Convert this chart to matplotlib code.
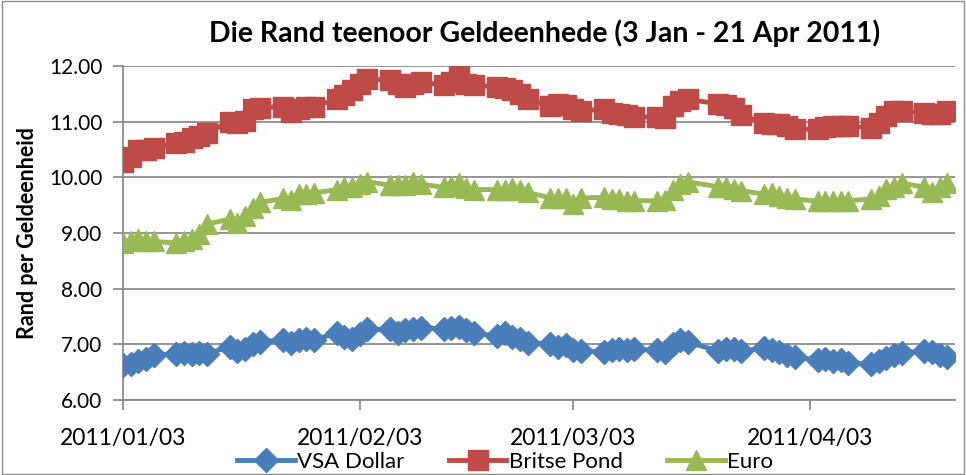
import matplotlib
matplotlib.use("Agg")
import matplotlib.pyplot as plt
import matplotlib.dates as mdates
from matplotlib.patches import Rectangle
import pandas as pd

# business days 3 Jan - 21 Apr 2011 (21 Mar is a public holiday)
dates = pd.bdate_range("2011-01-03", "2011-04-21", freq="C", holidays=["2011-03-21"])

usd = [6.63, 6.65, 6.70, 6.74, 6.81,
       6.83, 6.85, 6.83, 6.84, 6.83,
       6.96, 6.88, 6.92, 7.00, 7.05,
       7.08, 7.03, 7.07, 7.10, 7.08,
       7.20, 7.13, 7.10, 7.18, 7.27,
       7.27, 7.20, 7.25, 7.27, 7.30,
       7.28, 7.30, 7.32, 7.25, 7.20,
       7.15, 7.20, 7.13, 7.10, 7.03,
       7.00, 6.95, 6.98, 6.90, 6.88,
       6.87, 6.89, 6.91, 6.89, 6.91,
       6.89, 6.86, 7.00, 7.08, 7.04,
       6.88, 6.92, 6.92, 6.88,
       6.93, 6.90, 6.86, 6.80, 6.77,
       6.72, 6.74, 6.70, 6.72, 6.66,
       6.65, 6.70, 6.75, 6.80, 6.85,
       6.88, 6.86, 6.80, 6.78]

gbp = [10.28, 10.37, 10.49, 10.50, 10.52,
       10.62, 10.63, 10.70, 10.75, 10.80,
       11.00, 10.98, 11.02, 11.22, 11.25,
       11.27, 11.18, 11.22, 11.26, 11.27,
       11.40, 11.48, 11.57, 11.68, 11.76,
       11.75, 11.67, 11.63, 11.68, 11.71,
       11.66, 11.72, 11.85, 11.68, 11.66,
       11.62, 11.60, 11.57, 11.50, 11.40,
       11.28, 11.32, 11.30, 11.22, 11.20,
       11.22, 11.15, 11.14, 11.12, 11.09,
       11.08, 11.06, 11.28, 11.38, 11.40,
       11.32, 11.30, 11.25, 11.12,
       10.98, 10.95, 10.95, 10.93, 10.86,
       10.87, 10.90, 10.92, 10.92, 10.93,
       10.88, 10.98, 11.10, 11.20, 11.20,
       11.15, 11.13, 11.13, 11.20]

eur = [8.82, 8.86, 8.90, 8.86, 8.85,
       8.82, 8.85, 8.90, 8.98, 9.16,
       9.25, 9.18, 9.30, 9.45, 9.55,
       9.62, 9.60, 9.70, 9.70, 9.72,
       9.78, 9.82, 9.83, 9.88, 9.92,
       9.86, 9.86, 9.86, 9.92, 9.88,
       9.82, 9.85, 9.90, 9.80, 9.78,
       9.78, 9.78, 9.80, 9.78, 9.73,
       9.63, 9.62, 9.62, 9.52, 9.63,
       9.64, 9.61, 9.61, 9.58, 9.58,
       9.58, 9.60, 9.78, 9.88, 9.92,
       9.83, 9.82, 9.79, 9.76,
       9.70, 9.71, 9.67, 9.63, 9.61,
       9.57, 9.58, 9.57, 9.58, 9.58,
       9.61, 9.67, 9.79, 9.83, 9.90,
       9.82, 9.73, 9.82, 9.90]

tick_dates = pd.to_datetime(["2011-01-03", "2011-02-03", "2011-03-03", "2011-04-03"])

plt.rcParams['font.family'] = ['Lato', 'DejaVu Sans']

fig = plt.figure(figsize=(9.66, 4.75), dpi=100)
ax = fig.add_axes([123/966, 1-400/475, (955-123)/966, (400-66)/475])

ax.plot(dates, usd, color='#4a7ebb', lw=3.5, marker='D', ms=12, label='VSA Dollar', zorder=3)
ax.plot(dates, gbp, color='#be4b48', lw=3.5, marker='s', ms=14, label='Britse Pond', zorder=3)
ax.plot(dates, eur, color='#98b954', lw=3.5, marker='^', ms=15, label='Euro', zorder=3)

ax.set_ylim(6, 12)
ax.set_yticks([6, 7, 8, 9, 10, 11, 12])
ax.set_yticklabels(['%.2f' % v for v in ax.get_yticks()])
ax.set_xlim(pd.Timestamp("2011-01-03"), pd.Timestamp("2011-04-22"))
ax.set_xticks(tick_dates)
ax.xaxis.set_major_formatter(mdates.DateFormatter('%Y/%m/%d'))

ax.grid(axis='y', color='#8c8c8c', lw=1.3)
ax.set_axisbelow(True)
for s in ['top', 'right']:
    ax.spines[s].set_visible(False)
for s in ['left', 'bottom']:
    ax.spines[s].set_color('#8c8c8c')
    ax.spines[s].set_linewidth(1.3)
ax.tick_params(axis='both', colors='#8c8c8c', labelcolor='black', labelsize=14,
               length=7, width=1.3)
ax.tick_params(axis='x', pad=13, labelsize=16.5)
ax.tick_params(axis='y', pad=8, labelsize=15)

ax.set_ylabel('Rand per Geldeenheid', fontsize=15.5, fontweight='bold', labelpad=8)
fig.suptitle('Die Rand teenoor Geldeenhede (3 Jan - 21 Apr 2011)', fontsize=20.5,
             fontweight='bold', x=545/966, y=1-33/475, va='center')

fig.legend(loc='center', bbox_to_anchor=(505/966, 1-462/475), ncol=3, frameon=False,
           fontsize=16, handlelength=2.6, columnspacing=2.0, handletextpad=0.1)

fig.patches.append(Rectangle((0.002, 0.003), 0.996, 0.994, transform=fig.transFigure,
                             fill=False, edgecolor='#8c8c8c', lw=1))

fig.savefig('out.png', dpi=100)
